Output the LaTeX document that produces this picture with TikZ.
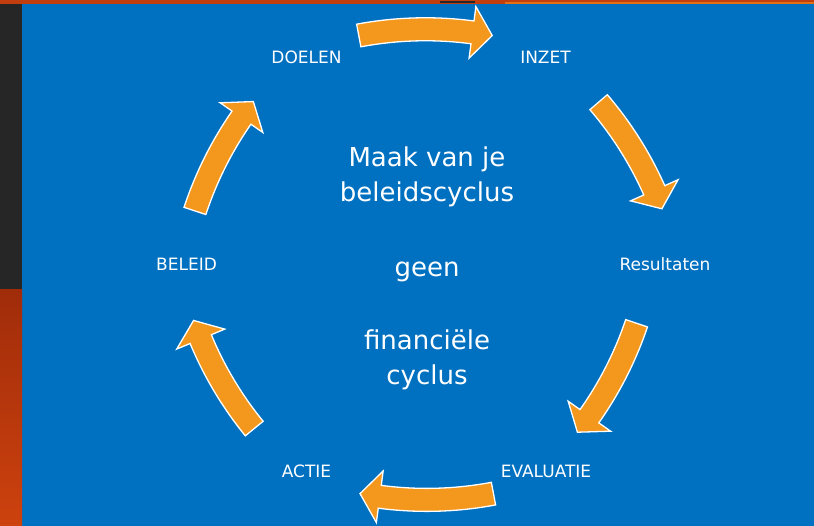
\documentclass[tikz,border=0pt]{standalone}
\usepackage{fontspec}
\setmainfont{DejaVu Sans}
\definecolor{bgblue}{RGB}{0,112,192}
\definecolor{arrorange}{RGB}{243,151,29}
\definecolor{darkgray}{RGB}{38,38,38}
\definecolor{rustlight}{RGB}{205,66,14}
\definecolor{rustdark}{RGB}{160,44,10}
\definecolor{topred}{RGB}{195,62,14}
\definecolor{toporange}{RGB}{228,112,22}
\tikzset{
  arrowfill/.style={fill=arrorange, draw=white, line width=1.3pt, line join=miter},
  lbl/.style={text=white, font=\fontsize{17}{20}\selectfont, anchor=base, inner sep=0pt},
  bigtxt/.style={text=white, font=\fontsize{26}{31}\selectfont, anchor=base, inner sep=0pt}
}
% #1,#2 chord midpoint, #3 rotation, #4 half angle, #5 offset of arc centre
\newcommand\cycarrow[5]{%
  \begin{scope}[shift={(#1,#2)}, rotate=#3]
  \begin{scope}[shift={(0,-#5)}]
    \path[arrowfill] ({90+#4}:371.5pt)
      arc[start angle={90+#4}, end angle={90-#4+3.183}, radius=371.5pt]
      -- ({90-#4+3.183}:386pt) -- ({90-#4}:360pt) -- ({90-#4+3.183}:334pt)
      -- ({90-#4+3.183}:348.5pt)
      arc[start angle={90-#4+3.183}, end angle={90+#4}, radius=348.5pt] -- cycle;
  \end{scope}
  \end{scope}}
\begin{document}
\begin{tikzpicture}[x=1pt,y=1pt]
\useasboundingbox (0,0) rectangle (814,526);
% background
\fill[bgblue] (0,0) rectangle (814,526);
\fill[darkgray] (0,236) rectangle (22,523);
\shade[top color=rustdark, bottom color=rustlight] (0,0) rectangle (22,236);
\fill[topred] (0,522) rectangle (814,526);
\fill[toporange] (505,522) rectangle (814,524);
\fill[darkgray] (440,523) rectangle (475,525);
% arrows
\cycarrow{425.5}{490.5}{0}{10.685}{353.76}
\cycarrow{630.25}{370.5}{-59.3}{9.917}{354.62}
\cycarrow{607}{148.25}{-118.5}{9.917}{354.62}
\cycarrow{426.75}{32.35}{180}{10.685}{353.76}
\cycarrow{223.9}{151.5}{119.3}{9.917}{354.62}
\cycarrow{224.15}{369.75}{61.9}{9.917}{354.62}
% labels
\node[lbl] (doelen) at (306.5,462) {DOELEN};
\node[lbl] (inzet) at (545.5,462) {INZET};
\node[lbl] (result) at (665,255) {Resultaten};
\node[lbl] (evaluatie) at (546,48) {EVALUATIE};
\node[lbl] (actie) at (306.5,48) {ACTIE};
\node[lbl] (beleid) at (186.5,255) {BELEID};
% centre text
\node[bigtxt] (t1) at (427,359.3) {Maak van je};
\node[bigtxt] (t2) at (427,324.3) {beleidscyclus};
\node[bigtxt] (t3) at (427,249.3) {geen};
\node[bigtxt] (t4) at (427,176) {financiële};
\node[bigtxt] (t5) at (427,141) {cyclus};
\end{tikzpicture}
\end{document}
